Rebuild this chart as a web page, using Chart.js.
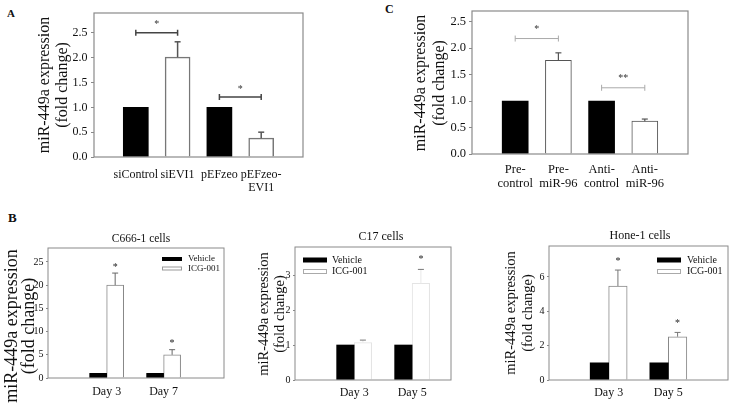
<!DOCTYPE html>
<html>
<head>
<meta charset="utf-8">
<script src="https://cdn.jsdelivr.net/npm/chart.js@4.4.0/dist/chart.umd.min.js"></script>
<style>
  html, body { margin: 0; padding: 0; background: #fff; }
  body { position: relative; width: 734px; height: 405px; overflow: hidden; font-family: "Liberation Serif", "Times New Roman", serif; }
  canvas { position: absolute; left: 0; top: 0; }
  .plbl { position: absolute; font-weight: bold; line-height: 1; color: #111; }
</style>
</head>
<body>
<div class="plbl" style="left:7px;top:8px;font-size:11px;">A</div>
<div class="plbl" style="left:385px;top:3px;font-size:12px;">C</div>
<div class="plbl" style="left:8px;top:211px;font-size:13px;">B</div>
<canvas id="cA" width="734" height="405"></canvas>
<canvas id="cC" width="734" height="405"></canvas>
<canvas id="cB1" width="734" height="405"></canvas>
<canvas id="cB2" width="734" height="405"></canvas>
<canvas id="cB3" width="734" height="405"></canvas>
<script>
// ---------------- DATA ----------------
const yTitle = ['miR-449a expression', '(fold change)'];

// Panel A
const catsA = ['siControl', 'siEVI1', 'pEFzeo', ['pEFzeo-', 'EVI1']];
const valuesA = [1.0, 2.01, 1.0, 0.38];
const errorsA = [0, 0.31, 0, 0.12];
const ticksA = [0, 0.5, 1.0, 1.5, 2.0, 2.5];
const sigA = [{ from: 0, to: 1, y: 2.5, text: '*' }, { from: 2, to: 3, y: 1.21, text: '*' }];

// Panel C
const catsC = [['Pre-', 'control'], ['Pre-', 'miR-96'], ['Anti-', 'control'], ['Anti-', 'miR-96']];
const valuesC = [1.0, 1.77, 1.0, 0.62];
const errorsC = [0, 0.14, 0, 0.04];
const ticksC = [0, 0.5, 1.0, 1.5, 2.0, 2.5];
const sigC = [{ from: 0, to: 1, y: 2.18, text: '*' }, { from: 2, to: 3, y: 1.25, text: '**' }];

// Panel B
const seriesNames = ['Vehicle', 'ICG-001'];

const titleB1 = 'C666-1 cells';
const daysB1 = ['Day 3', 'Day 7'];
const vehicleB1 = [1.0, 1.0];
const icgB1 = [20.0, 5.0];
const icgErrB1 = [2.6, 1.1];
const starsB1 = ['*', '*'];
const ticksB1 = [0, 5, 10, 15, 20, 25];

const titleB2 = 'C17 cells';
const daysB2 = ['Day 3', 'Day 5'];
const vehicleB2 = [1.0, 1.0];
const icgB2 = [1.07, 2.76];
const icgErrB2 = [0.07, 0.40];
const starsB2 = ['', '*'];
const ticksB2 = [0, 1, 2, 3];

const titleB3 = 'Hone-1 cells';
const daysB3 = ['Day 3', 'Day 5'];
const vehicleB3 = [1.0, 1.0];
const icgB3 = [5.47, 2.52];
const icgErrB3 = [0.93, 0.25];
const starsB3 = ['*', '*'];
const ticksB3 = [0, 2, 4, 6];

// ---------------- DRAWING ----------------
const SERIF = '"Liberation Serif", "Times New Roman", serif';
const W = 734, H = 405;

const figPlugin = {
  id: 'fig',
  afterDatasetsDraw(chart, args, o) {
    const ctx = chart.ctx, a = chart.chartArea, xs = chart.scales.x, ys = chart.scales.y;
    ctx.save();
    ctx.lineCap = 'butt';
    // error bars + stars
    chart.data.datasets.forEach((ds, di) => {
      if (!ds.errors) return;
      const meta = chart.getDatasetMeta(di);
      meta.data.forEach((el, i) => {
        const e = ds.errors[i];
        if (!e) return;
        const y1 = ys.getPixelForValue(ds.data[i].y + e);
        ctx.lineWidth = o.errWidth;
        ctx.strokeStyle = o.errStem || o.errColor;
        ctx.beginPath(); ctx.moveTo(el.x, el.y); ctx.lineTo(el.x, y1); ctx.stroke();
        ctx.strokeStyle = o.errColor;
        ctx.beginPath(); ctx.moveTo(el.x - o.cap, y1); ctx.lineTo(el.x + o.cap, y1); ctx.stroke();
        const s = ds.stars && ds.stars[i];
        if (s) {
          ctx.fillStyle = '#222';
          ctx.font = o.starFont + 'px ' + SERIF;
          ctx.textAlign = 'center'; ctx.textBaseline = 'middle';
          ctx.fillText(s, el.x, y1 - o.starGap);
        }
      });
    });
    // significance brackets
    (o.sig || []).forEach(s => {
      const x1 = xs.getPixelForValue(s.from), x2 = xs.getPixelForValue(s.to), y = ys.getPixelForValue(s.y);
      ctx.strokeStyle = o.sigColor; ctx.lineWidth = o.sigWidth;
      ctx.beginPath();
      ctx.moveTo(x1, y); ctx.lineTo(x2, y);
      ctx.moveTo(x1, y - 3); ctx.lineTo(x1, y + 3);
      ctx.moveTo(x2, y - 3); ctx.lineTo(x2, y + 3);
      ctx.stroke();
      ctx.fillStyle = '#333';
      ctx.font = o.starFont + 'px ' + SERIF;
      ctx.textAlign = 'center'; ctx.textBaseline = 'middle';
      ctx.fillText(s.text, (x1 + x2) / 2, y - o.starGap);
    });
    // frame
    ctx.strokeStyle = o.boxColor; ctx.lineWidth = o.boxWidth;
    ctx.strokeRect(a.left, a.top, a.right - a.left, a.bottom - a.top);
    ctx.restore();
  },
  afterDraw(chart, args, o) {
    const ctx = chart.ctx;
    ctx.save();
    ctx.fillStyle = '#111';
    // y title (two lines, rotated)
    ctx.font = o.yTitleFont + 'px ' + SERIF;
    ctx.textAlign = 'center'; ctx.textBaseline = 'middle';
    o.yTitleX.forEach((x, i) => {
      ctx.save(); ctx.translate(x, o.yTitleY); ctx.rotate(-Math.PI / 2);
      ctx.fillText(yTitle[i], 0, 0); ctx.restore();
    });
    // panel title
    if (o.title) {
      ctx.font = o.title.size + 'px ' + SERIF;
      ctx.fillText(o.title.text, o.title.x, o.title.y);
    }
    // legend
    if (o.legend) {
      const L = o.legend;
      chart.data.datasets.forEach((ds, i) => {
        const cy = L.y + i * L.dy;
        ctx.fillStyle = ds.backgroundColor;
        ctx.fillRect(L.x, cy - L.sh / 2, L.sw, L.sh);
        if (ds.borderWidth) {
          ctx.strokeStyle = L.stroke; ctx.lineWidth = 1;
          ctx.strokeRect(L.x + 0.5, cy - L.sh / 2 + 0.5, L.sw - 1, L.sh - 1);
        }
        ctx.fillStyle = '#111';
        ctx.font = L.font + 'px ' + SERIF;
        ctx.textAlign = 'left'; ctx.textBaseline = 'middle';
        ctx.fillText(ds.label, L.x + L.sw + L.gap, cy);
      });
    }
    ctx.restore();
  }
};

function xAxis(cats, min, max, box, font, lh, pad) {
  return {
    type: 'linear', min, max, offset: false,
    grid: { display: false, drawTicks: false }, border: { display: false },
    afterBuildTicks: ax => { ax.ticks = cats.map((c, i) => ({ value: i })); },
    ticks: { autoSkip: false, maxRotation: 0, minRotation: 0, padding: pad, color: '#111',
      font: { family: SERIF, size: font, lineHeight: lh / font }, callback: v => cats[v] },
    afterFit: ax => { ax.height = H - box.b; }
  };
}
function yAxis(ticks, max, box, font, tl, pad, fmt) {
  return {
    type: 'linear', min: 0, max,
    grid: { display: true, drawOnChartArea: false, drawTicks: true, tickLength: tl, color: '#888', lineWidth: 1 },
    border: { display: false },
    afterBuildTicks: ax => { ax.ticks = ticks.map(v => ({ value: v })); },
    ticks: { padding: pad, color: '#111', font: { family: SERIF, size: font }, callback: fmt },
    afterFit: ax => { ax.width = box.l; }
  };
}
function baseOptions(box, scales, fig) {
  return {
    responsive: false, animation: false, devicePixelRatio: 1,
    layout: { padding: { left: 0, top: box.t, right: W - box.r, bottom: 0 } },
    scales,
    plugins: { legend: { display: false }, tooltip: { enabled: false }, title: { display: false }, fig },
    events: []
  };
}
const pts = arr => arr.map((v, i) => ({ x: i, y: v }));
const fmt1 = v => Number(v).toFixed(1);
const fmt0 = v => String(v);

// ---- Panel A ----
const boxA = { l: 94, t: 13, r: 303, b: 157 };
new Chart(document.getElementById('cA'), {
  type: 'bar',
  data: { datasets: [{
    data: pts(valuesA), errors: errorsA,
    backgroundColor: c => c.dataIndex % 2 === 0 ? '#000' : '#fff',
    borderColor: c => c.dataIndex % 2 === 0 ? '#000' : '#777',
    borderWidth: c => c.dataIndex % 2 === 0 ? 0 : 1.5,
    barThickness: 25
  }] },
  options: baseOptions(boxA, {
    x: xAxis(catsA, -1, 4, boxA, 12, 12.5, 12),
    y: yAxis(ticksA, 2.9, boxA, 12, 3, 3.5, fmt1)
  }, { errWidth: 1.5, errColor: '#555', cap: 3, starGap: 8, starFont: 10, sig: sigA, sigColor: '#444', sigWidth: 1.5,
       boxColor: '#8a8a8a', boxWidth: 1.2, yTitleFont: 16, yTitleX: [45, 63], yTitleY: 85 }),
  plugins: [figPlugin]
});

// ---- Panel C ----
const boxC = { l: 472, t: 11, r: 688, b: 154 };
new Chart(document.getElementById('cC'), {
  type: 'bar',
  data: { datasets: [{
    data: pts(valuesC), errors: errorsC,
    backgroundColor: c => c.dataIndex % 2 === 0 ? '#000' : '#fff',
    borderColor: c => c.dataIndex % 2 === 0 ? '#000' : '#555',
    borderWidth: c => c.dataIndex % 2 === 0 ? 0 : 1,
    barThickness: 26
  }] },
  options: baseOptions(boxC, {
    x: xAxis(catsC, -1, 4, boxC, 12.5, 14, 8.5),
    y: yAxis(ticksC, 2.7, boxC, 12.5, 3, 3, fmt1)
  }, { errWidth: 1.2, errColor: '#555', cap: 3, starGap: 9, starFont: 10, sig: sigC, sigColor: '#aaa', sigWidth: 1,
       boxColor: '#8a8a8a', boxWidth: 1.2, yTitleFont: 16, yTitleX: [421, 440], yTitleY: 83 }),
  plugins: [figPlugin]
});

// ---- Panel B helpers ----
function bPanel(id, box, days, veh, icg, icgErr, stars, ticks, ymax, xmin, xmax, bw, icgBorder, fig) {
  new Chart(document.getElementById(id), {
    type: 'bar',
    data: { datasets: [
      { label: seriesNames[0], data: pts(veh), backgroundColor: '#000', borderWidth: 0, barThickness: bw },
      { label: seriesNames[1], data: pts(icg), errors: icgErr, stars, backgroundColor: '#fff',
        borderColor: icgBorder, borderWidth: 1, barThickness: bw }
    ] },
    options: baseOptions(box, {
      x: xAxis(days, xmin, xmax, box, 12, 13, fig.xPad),
      y: yAxis(ticks, ymax, box, fig.tickFont, 2, 2.5, fmt0)
    }, fig),
    plugins: [figPlugin]
  });
}

const boxB1 = { l: 48, t: 248, r: 224, b: 378 };
bPanel('cB1', boxB1, daysB1, vehicleB1, icgB1, icgErrB1, starsB1, ticksB1, 28, -1.03, 2.06, 17, '#888', {
  xPad: 7.5, tickFont: 10, errWidth: 1, errColor: '#666', cap: 3, starGap: 6, starFont: 10,
  boxColor: '#8a8a8a', boxWidth: 1, yTitleFont: 18, yTitleX: [12, 29], yTitleY: 326,
  title: { text: titleB1, x: 141, y: 239, size: 11.5 },
  legend: { x: 162, y: 259, dy: 9.5, sw: 20, sh: 4, gap: 6, font: 9, stroke: '#999' }
});

const boxB2 = { l: 295, t: 247, r: 451, b: 380 };
bPanel('cB2', boxB2, daysB2, vehicleB2, icgB2, icgErrB2, starsB2, ticksB2, 3.8, -1.02, 1.67, 17.5, '#e4e4e4', {
  xPad: 6.5, tickFont: 10, errWidth: 1, errColor: '#777', errStem: '#e8e8e8', cap: 3, starGap: 10, starFont: 10,
  boxColor: '#8a8a8a', boxWidth: 1, yTitleFont: 14.5, yTitleX: [264, 280], yTitleY: 314,
  title: { text: titleB2, x: 381, y: 237, size: 12 },
  legend: { x: 303, y: 260, dy: 11.5, sw: 24, sh: 5, gap: 5, font: 10, stroke: '#aaa' }
});

const boxB3 = { l: 549, t: 246, r: 728, b: 380 };
bPanel('cB3', boxB3, daysB3, vehicleB3, icgB3, icgErrB3, starsB3, ticksB3, 7.8, -1, 2, 18.5, '#888', {
  xPad: 6.5, tickFont: 10, errWidth: 1, errColor: '#777', cap: 3, starGap: 9, starFont: 10,
  boxColor: '#8a8a8a', boxWidth: 1, yTitleFont: 14.5, yTitleX: [511, 528], yTitleY: 313,
  title: { text: titleB3, x: 640, y: 236, size: 12 },
  legend: { x: 657, y: 260, dy: 11.5, sw: 24, sh: 5, gap: 6, font: 10, stroke: '#aaa' }
});
</script>
</body>
</html>
